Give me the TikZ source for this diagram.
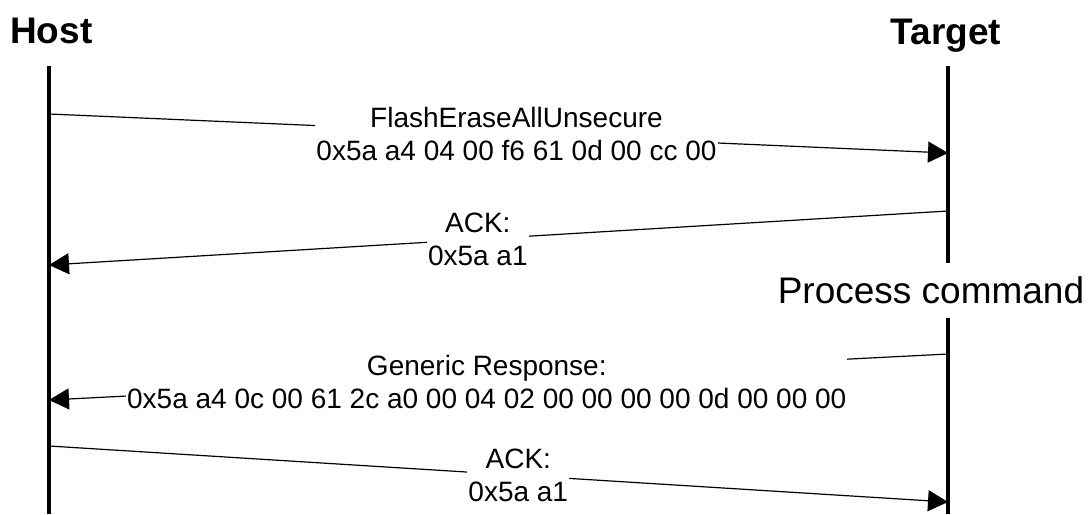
\documentclass[tikz,border=0pt]{standalone}
\usepackage{fontspec}
\setmainfont{Liberation Sans}
\usetikzlibrary{arrows.meta}

\tikzset{
  lifeline/.style={line width=4pt},
  msg/.style={line width=1.2pt, -{Triangle[length=20pt,width=21pt]}},
  msglabel/.style={fill=white, inner sep=1pt, align=center,
    font=\fontsize{28}{33}\selectfont},
  actor/.style={inner sep=0pt, font=\fontsize{37}{40}\selectfont\bfseries},
}

\begin{document}
\begin{tikzpicture}[x=1pt,y=-1pt]
  \useasboundingbox (0,0) rectangle (1091,514);

  % actors
  \node[actor, anchor=base west] (host) at (10,43) {Host};
  \node[actor, anchor=base] (target) at (946,44) {Target};

  % lifelines
  \coordinate (htop) at (49,66);
  \coordinate (hbot) at (49,514);
  \coordinate (ttop) at (948,66);
  \coordinate (tgapa) at (948,263);
  \coordinate (tgapb) at (948,318);
  \coordinate (tbot) at (948,514);
  \draw[lifeline] (htop) -- (hbot);
  \draw[lifeline] (ttop) -- (tgapa);
  \draw[lifeline] (tgapb) -- (tbot);
  \node[inner sep=0pt, anchor=base, font=\fontsize{37}{40}\selectfont]
    (proc) at (931,303) {Process command};

  % command
  \coordinate (cmds) at (49,114);
  \coordinate (cmde) at (948,153);
  \draw[msg] (cmds) -- node[msglabel, pos=0.52] (cmd)
    {FlashEraseAllUnsecure\\0x5a a4 04 00 f6 61 0d 00 cc 00} (cmde);

  % ack from target
  \coordinate (acks) at (948,211);
  \coordinate (acke) at (49,265);
  \draw[msg] (acks) -- node[msglabel, pos=0.523] (ack) {ACK:\\0x5a a1} (acke);

  % generic response
  \coordinate (resps) at (948,354);
  \coordinate (respe) at (49,400);
  \draw[msg] (resps) -- node[msglabel, pos=0.513, yshift=-4pt] (resp)
    {Generic Response:\\0x5a a4 0c 00 61 2c a0 00 04 02 00 00 00 00 0d 00 00 00} (respe);

  % ack from host
  \coordinate (hacks) at (49,446);
  \coordinate (hacke) at (948,502);
  \draw[msg] (hacks) -- node[msglabel, pos=0.522] (hack) {ACK:\\0x5a a1} (hacke);
\end{tikzpicture}
\end{document}
